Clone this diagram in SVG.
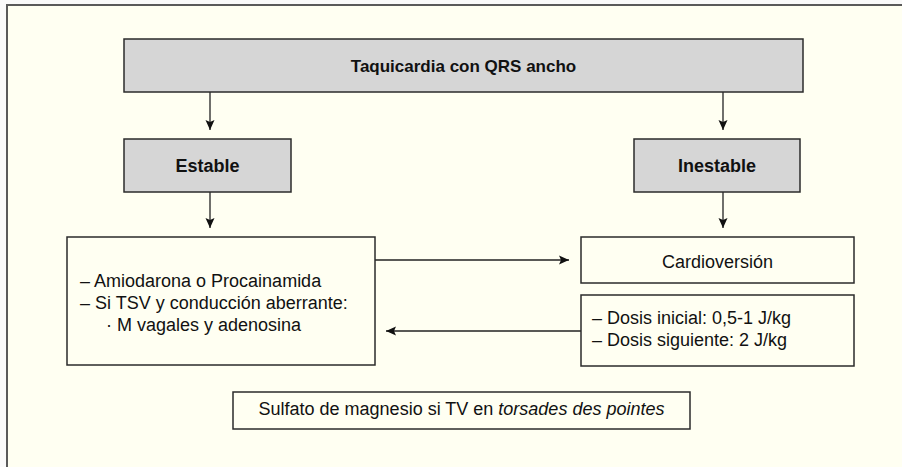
<svg xmlns="http://www.w3.org/2000/svg" width="902" height="467" viewBox="0 0 902 467">
<defs>
<marker id="ah" viewBox="0 0 10 10" refX="10" refY="5" markerWidth="10" markerHeight="10" markerUnits="userSpaceOnUse" orient="auto">
<path d="M0,0.5 L10,5 L0,9.5 L2,5 Z" fill="#111"/>
</marker>
</defs>
<style>
.box{fill:#FFFFF2;stroke:#2b2b2b;stroke-width:1.5}
.gbox{fill:#D6D6D6;stroke:#2b2b2b;stroke-width:1.5}
.t{font-family:"Liberation Sans",Arial,Helvetica,sans-serif;font-size:18px;fill:#111}
.b{font-weight:bold}
.c{text-anchor:middle}
.conn{stroke:#222;stroke-width:1.3;fill:none;marker-end:url(#ah)}
</style>
<rect x="0" y="0" width="902" height="467" fill="#FAFAFA"/>
<rect x="7" y="5" width="900" height="470" fill="#FFFFF2" stroke="#5a5a5a" stroke-width="2"/>
<g id="connectors">
<line class="conn" x1="210" y1="92" x2="210" y2="130"/>
<line class="conn" x1="723" y1="92" x2="723" y2="130"/>
<line class="conn" x1="210" y1="192" x2="210" y2="228"/>
<line class="conn" x1="723" y1="192" x2="723" y2="228"/>
<line class="conn" x1="375" y1="260" x2="569" y2="260"/>
<line class="conn" x1="581" y1="331" x2="386" y2="331"/>
</g>
<g id="n_title">
<rect class="gbox" x="124" y="39" width="679" height="53"/>
<text class="t b c" x="463.5" y="72" style="font-size:17px">Taquicardia con QRS ancho</text>
</g>
<g id="n_estable">
<rect class="gbox" x="124" y="139" width="167" height="53"/>
<text class="t b c" x="207.5" y="172">Estable</text>
</g>
<g id="n_inestable">
<rect class="gbox" x="634" y="139" width="166" height="53"/>
<text class="t b c" x="717" y="172">Inestable</text>
</g>
<g id="n_tratamiento">
<rect class="box" x="67" y="237" width="308" height="128"/>
<text class="t" x="80" y="287">– Amiodarona o Procainamida</text>
<text class="t" x="80" y="309">– Si TSV y conducción aberrante:</text>
<text class="t" x="106" y="331">· M vagales y adenosina</text>
</g>
<g id="n_cardioversion">
<rect class="box" x="581" y="237" width="273" height="46"/>
<text class="t c" x="717.5" y="268">Cardioversión</text>
</g>
<g id="n_dosis">
<rect class="box" x="581" y="295" width="273" height="71"/>
<text class="t" x="592" y="324">– Dosis inicial: 0,5-1 J/kg</text>
<text class="t" x="592" y="346">– Dosis siguiente: 2 J/kg</text>
</g>
<g id="n_magnesio">
<rect class="box" x="233" y="392" width="457" height="37"/>
<text class="t c" x="461.5" y="415">Sulfato de magnesio si TV en <tspan font-style="italic">torsades des pointes</tspan></text>
</g>
</svg>
